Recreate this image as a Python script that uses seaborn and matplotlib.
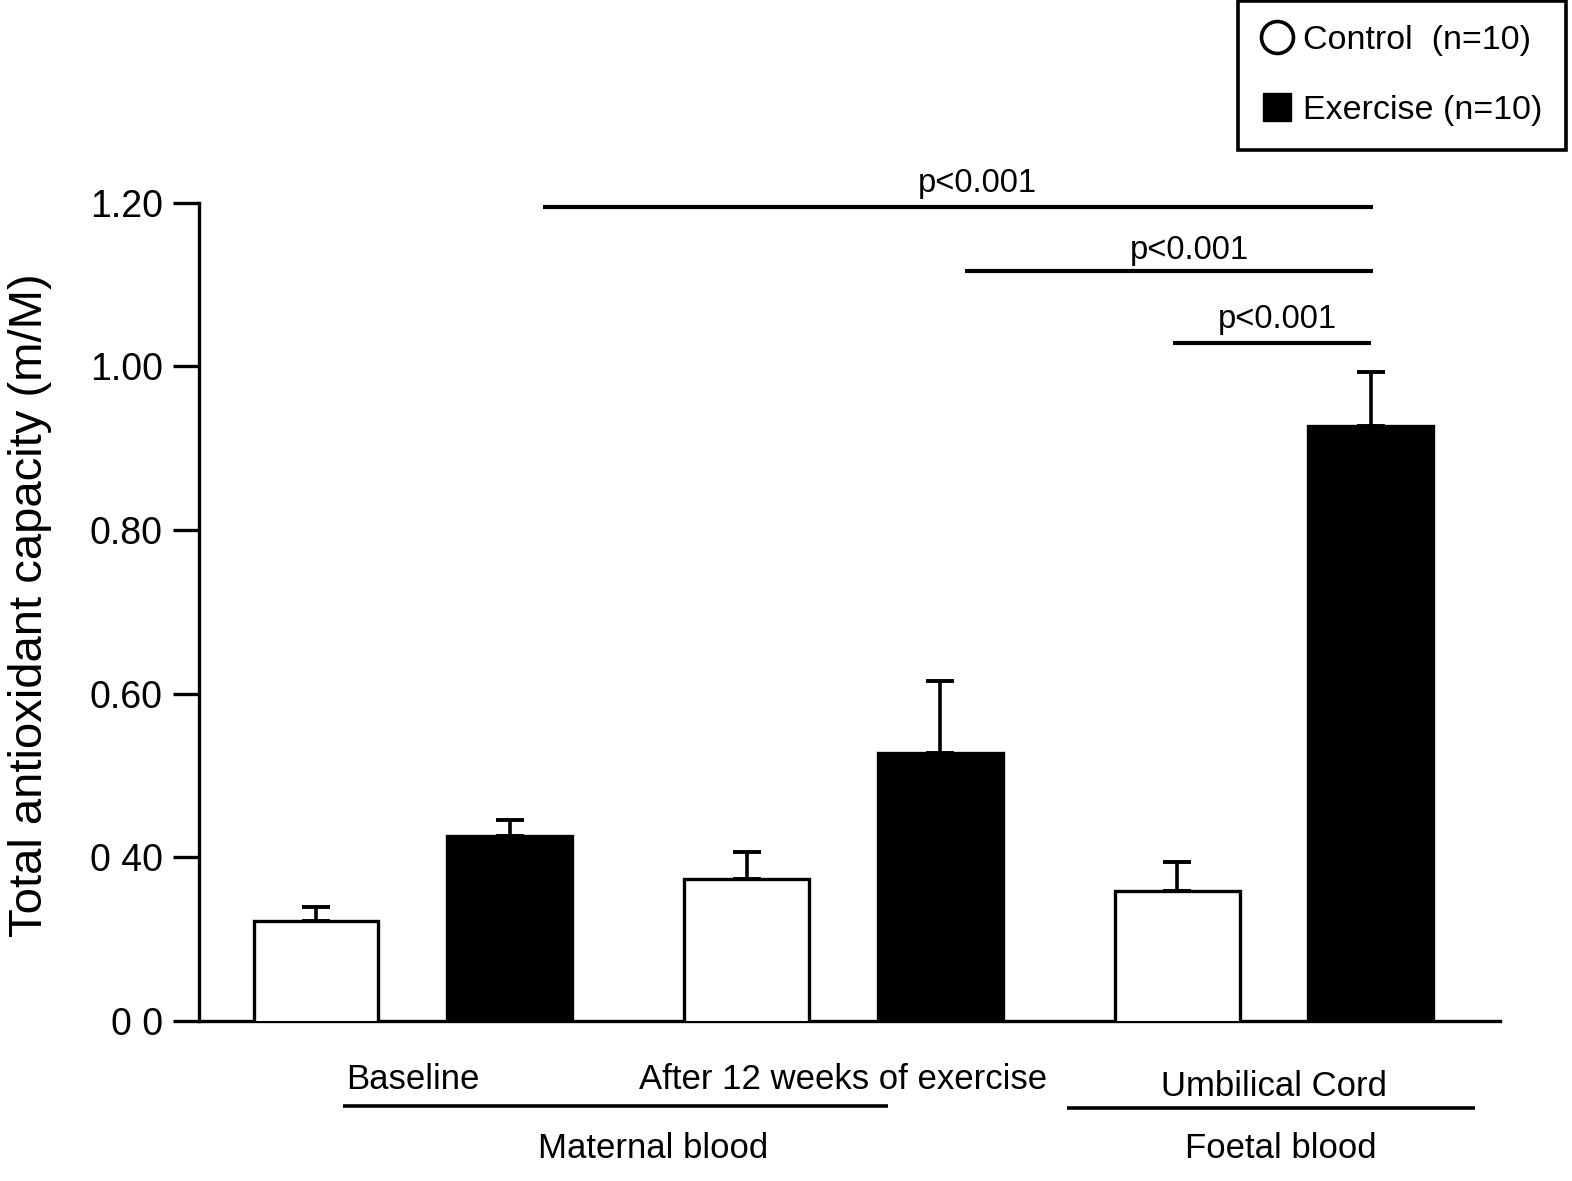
import numpy as np
import pandas as pd
import matplotlib
matplotlib.use("Agg")
import matplotlib.pyplot as plt
import matplotlib.transforms as mtransforms
from matplotlib.lines import Line2D
import seaborn as sns

groups = ["Baseline", "After 12 weeks of exercise", "Umbilical Cord"]
control = [0.322, 0.374, 0.359]
exercise = [0.426, 0.528, 0.927]
control_err = [0.017, 0.033, 0.035]
exercise_err = [0.020, 0.087, 0.066]
ytick_vals = [0.2, 0.4, 0.6, 0.8, 1.0, 1.2]
ytick_labels = ["0 0", "0 40", "0.60", "0.80", "1.00", "1.20"]

df = pd.DataFrame({
    "group": groups * 2,
    "cond": ["Control"] * 3 + ["Exercise"] * 3,
    "tac": control + exercise,
})

sns.set_style("white")
plt.rcParams["font.family"] = ["Liberation Sans", "DejaVu Sans"]
plt.rcParams["text.color"] = "black"
plt.rcParams["axes.labelcolor"] = "black"
plt.rcParams["xtick.color"] = "black"
plt.rcParams["ytick.color"] = "black"

fig = plt.figure(figsize=(15.72, 11.81), dpi=100)
ax = fig.add_axes([0.1266, 0.1355, 0.8276, 0.7621])

sns.barplot(data=df, x="group", y="tac", hue="cond", order=groups,
            hue_order=["Control", "Exercise"],
            palette={"Control": "white", "Exercise": "black"},
            edgecolor="black", linewidth=2.4, width=0.9, gap=0.356,
            legend=False, ax=ax, zorder=3)

# upper-only error bars
errs = [control_err, exercise_err]
vals = [control, exercise]
for cont, e, v in zip(ax.containers, errs, vals):
    xs = [b.get_x() + b.get_width() / 2 for b in cont]
    ax.errorbar(xs, v, yerr=[np.zeros(len(v)), e], fmt="none", ecolor="black",
                elinewidth=2.6, capsize=10, capthick=2.8, zorder=2)

ax.set_xlim(-0.497, 2.525)
ax.set_ylim(0.2, 1.3)
ax.set_yticks(ytick_vals)
ax.set_yticklabels(ytick_labels)
ax.spines["top"].set_visible(False)
ax.spines["right"].set_visible(False)
ax.spines["left"].set_bounds(0.2, 1.2)
for s in ["left", "bottom"]:
    ax.spines[s].set_linewidth(2.4)
    ax.spines[s].set_color("black")
ax.tick_params(axis="y", length=19, width=2.4, direction="out", pad=7,
               labelsize=27, left=True, color="black", labelcolor="black")
ax.tick_params(axis="x", length=0, pad=30, labelsize=25, labelcolor="black")
ax.set_xlabel("")
ax.set_ylabel("Total antioxidant capacity (m/M)", fontsize=34, color="black")
ax.yaxis.set_label_coords(-0.113, 0.462)

labs = ax.get_xticklabels()
labs[2].set_transform(labs[2].get_transform() +
                      mtransforms.ScaledTranslation(0, -7 / 100, fig.dpi_scale_trans))

# significance bars
sig = [(0.302, 2.230, 1.195, 1.31, 1.224),
       (1.282, 2.230, 1.117, 1.803, 1.142),
       (1.765, 2.225, 1.029, 2.007, 1.057)]
for x0, x1, y, tx, ty in sig:
    ax.plot([x0, x1], [y, y], color="black", lw=3, solid_capstyle="butt")
    ax.text(tx, ty, "p<0.001", ha="center", va="center", fontsize=23.5)

# group brackets below x axis
tr = mtransforms.blended_transform_factory(ax.transData, ax.transAxes)
ax.plot([-0.163, 1.103], [-0.0944, -0.0944], color="black", lw=2.6,
        transform=tr, clip_on=False, solid_capstyle="butt")
ax.plot([1.519, 2.467], [-0.0967, -0.0967], color="black", lw=2.6,
        transform=tr, clip_on=False, solid_capstyle="butt")
ax.text(0.557, -0.142, "Maternal blood", transform=tr, ha="center", va="center", fontsize=25)
ax.text(2.016, -0.142, "Foetal blood", transform=tr, ha="center", va="center", fontsize=25)

handles = [Line2D([], [], ls="none", marker="o", markersize=23, markerfacecolor="white",
                  markeredgecolor="black", markeredgewidth=2.6),
           Line2D([], [], ls="none", marker="s", markersize=20, markerfacecolor="black",
                  markeredgecolor="black")]
leg = fig.legend(handles, ["Control  (n=10)", "Exercise (n=10)"], loc="upper right",
                 bbox_to_anchor=(1566 / 1572, 0.999), fontsize=24.5, frameon=True,
                 fancybox=False, edgecolor="black", framealpha=1, borderaxespad=0,
                 handlelength=0.9, handletextpad=0.3, labelspacing=1.15, borderpad=0.7)
leg.get_frame().set_linewidth(2.6)

fig.savefig("out.png", dpi=100)
